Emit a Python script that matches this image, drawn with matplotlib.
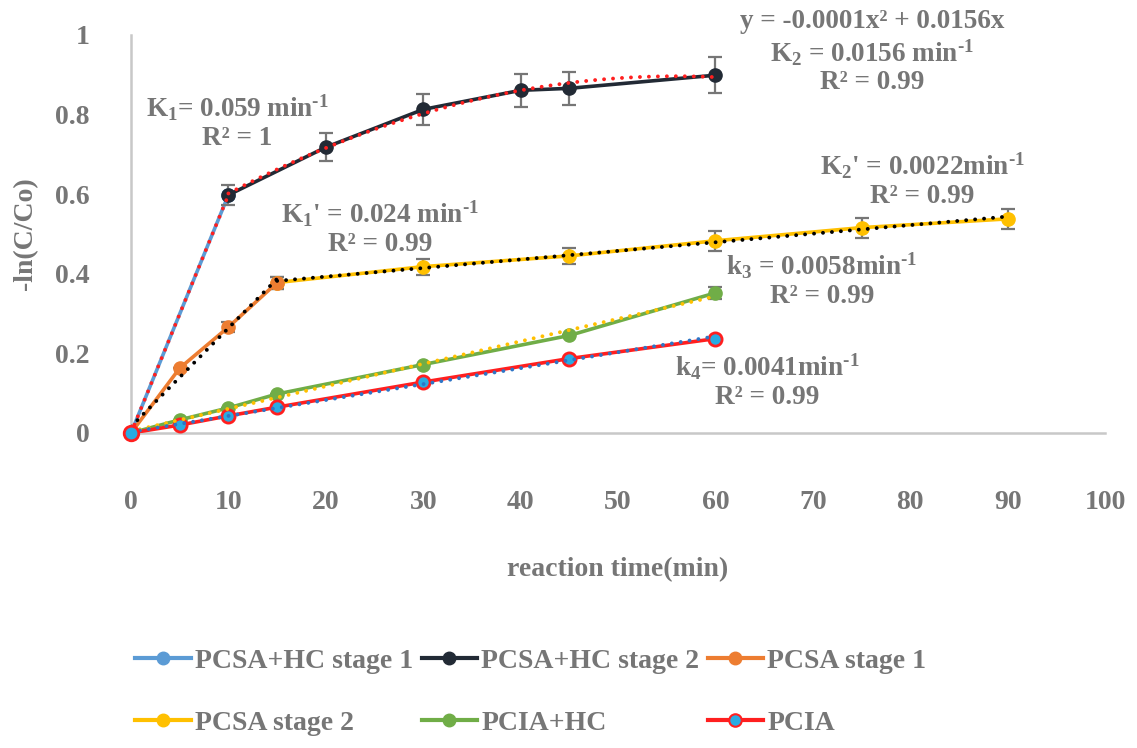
import numpy as np
import matplotlib.pyplot as plt
from matplotlib.lines import Line2D

plt.rcParams["font.family"] = ["Liberation Serif", "DejaVu Serif"]
plt.rcParams["font.weight"] = "bold"
plt.rcParams["mathtext.fontset"] = "custom"
plt.rcParams["mathtext.rm"] = "Liberation Serif:bold"
plt.rcParams["mathtext.it"] = "Liberation Serif:bold"
plt.rcParams["mathtext.bf"] = "Liberation Serif:bold"

# ── Data ──────────────────────────────────────────────────────────────────────
t_hc1 = [0, 10]
y_hc1 = [0.0, 0.598]

t_hc2 = [10, 20, 30, 40, 45, 60]
y_hc2 = [0.598, 0.718, 0.813, 0.861, 0.866, 0.899]
e_hc2 = [0.025, 0.035, 0.04, 0.042, 0.042, 0.045]

t_sa1 = [0, 5, 10, 15]
y_sa1 = [0.0, 0.163, 0.266, 0.378]
e_sa1 = [0.0, 0.0, 0.012, 0.015]

t_sa2 = [15, 30, 45, 60, 75, 90]
y_sa2 = [0.378, 0.418, 0.445, 0.483, 0.516, 0.538]
e_sa2 = [0.015, 0.02, 0.02, 0.025, 0.025, 0.025]

t_iahc = [0, 5, 10, 15, 30, 45, 60]
y_iahc = [0.0, 0.033, 0.063, 0.098, 0.172, 0.245, 0.352]
e_iahc = [0, 0, 0, 0, 0, 0, 0.015]

t_ia = [0, 5, 10, 15, 30, 45, 60]
y_ia = [0.0, 0.02, 0.043, 0.065, 0.128, 0.187, 0.237]

labels = ["PCSA+HC stage 1", "PCSA+HC stage 2", "PCSA stage 1",
          "PCSA stage 2", "PCIA+HC", "PCIA"]

GRAY = "#767676"
C_BLUE, C_DARK, C_ORANGE = "#5B9BD5", "#222A35", "#ED7D31"
C_YELLOW, C_GREEN, C_RED = "#FFC000", "#70AD47", "#FF1F1F"
C_CYAN = "#29ABE2"

fig = plt.figure(figsize=(11.37, 7.48), dpi=100)
ax = fig.add_axes([131 / 1137, 1 - 433 / 748, (1105 - 131) / 1137, (433 - 35) / 748])

lw, ms = 2.6, 9.5
err_kw = dict(ecolor=GRAY, elinewidth=1.6, capsize=5, capthick=1.6)


def trend(t, y, deg, color):
    p = np.polyfit(t, y, deg)
    xs = np.linspace(t[0], t[-1], 100)
    ax.plot(xs, np.polyval(p, xs), linestyle=(0, (0.01, 2.3)), color=color,
            linewidth=2.8, dash_capstyle="round", zorder=6)


# series lines with markers
ax.errorbar(t_sa2, y_sa2, yerr=e_sa2, color=C_YELLOW, marker="o", ms=ms, lw=lw, zorder=3, **err_kw)
ax.errorbar(t_sa1, y_sa1, yerr=e_sa1, color=C_ORANGE, marker="o", ms=ms, lw=lw, zorder=3, **err_kw)
ax.errorbar(t_iahc, y_iahc, yerr=e_iahc, color=C_GREEN, marker="o", ms=ms, lw=lw, zorder=3, **err_kw)
ax.plot(t_ia, y_ia, color=C_RED, marker="o", ms=ms, mfc=C_CYAN, mec=C_RED, mew=2, lw=lw, zorder=4)
ax.plot(t_hc1, y_hc1, color=C_BLUE, marker="o", ms=ms, lw=lw, zorder=3)
ax.errorbar(t_hc2, y_hc2, yerr=e_hc2, color=C_DARK, marker="o", ms=ms, lw=lw, zorder=4, **err_kw)
ax.plot([0], [0], marker="o", ms=ms + 1, mfc=C_CYAN, mec=C_RED, mew=2, zorder=7, clip_on=False)

# trend lines
trend(t_hc1, y_hc1, 1, C_RED)
trend(t_hc2, y_hc2, 2, C_RED)
trend(t_sa1, y_sa1, 1, "black")
trend(t_sa2, y_sa2, 1, "black")
trend(t_iahc, y_iahc, 1, C_YELLOW)
trend(t_ia, y_ia, 1, "#2E75C6")

ax.set_xlim(0, 100)
ax.set_ylim(0, 1)
ax.set_xticks(np.arange(0, 101, 10))
ax.set_yticks([0, 0.2, 0.4, 0.6, 0.8, 1])
ax.set_yticklabels(["0", "0.2", "0.4", "0.6", "0.8", "1"])
for s in ("top", "right"):
    ax.spines[s].set_visible(False)
for s in ("left", "bottom"):
    ax.spines[s].set_color("#C8C8C8")
    ax.spines[s].set_linewidth(1.8)
ax.tick_params(length=0, labelsize=20, labelcolor=GRAY)
ax.tick_params(axis="x", pad=41)
ax.tick_params(axis="y", pad=30)
ax.set_xlabel("reaction time(min)", fontsize=20, fontweight="bold", color=GRAY, labelpad=30)
ax.set_ylabel("-ln(C/Co)", fontsize=20, fontweight="bold", color=GRAY, labelpad=12)

# fitted rate annotations
mi = r"min$^{\text{-}1}$"
notes = [
    (237, 122, "K$_1$= 0.059 " + mi + "\nR² = 1"),
    (872, 52, "y = -0.0001x² + 0.0156x\nK$_2$ = 0.0156 " + mi + "\nR² = 0.99"),
    (380, 228, "K$_1$' = 0.024 " + mi + "\nR² = 0.99"),
    (922, 180, "K$_2$' = 0.0022" + mi + "\nR² = 0.99"),
    (822, 280, "k$_3$ = 0.0058" + mi + "\nR² = 0.99"),
    (767, 381, "k$_4$= 0.0041" + mi + "\nR² = 0.99"),
]
for px, py, s in notes:
    fig.text(px / 1137, 1 - py / 748, s, ha="center", va="center", ma="center",
             fontsize=19.5, color=GRAY, linespacing=1.15)

# legend in row-major order
styles = [
    dict(color=C_BLUE, marker="o"),
    dict(color=C_DARK, marker="o"),
    dict(color=C_ORANGE, marker="o"),
    dict(color=C_YELLOW, marker="o"),
    dict(color=C_GREEN, marker="o"),
    dict(color=C_RED, marker="o", mfc=C_CYAN, mec=C_RED, mew=1.5),
]
handles = [Line2D([], [], lw=3, ms=9, **st) for st in styles]
order = [0, 3, 1, 4, 2, 5]
fig.legend([handles[i] for i in order], [labels[i] for i in order],
           ncol=3, loc="upper left", bbox_to_anchor=(127 / 1137, 1 - 640 / 748),
           frameon=False, fontsize=20, labelcolor=GRAY, handlelength=2.0,
           handletextpad=0.15, columnspacing=0.3, labelspacing=1.32,
           borderaxespad=0, borderpad=0.3)

plt.savefig("out.png", dpi=100)
